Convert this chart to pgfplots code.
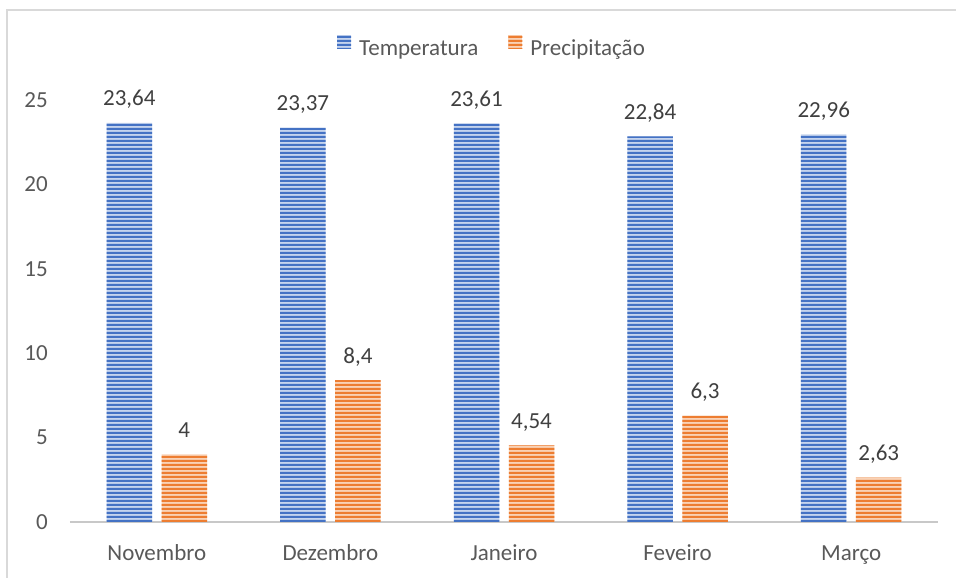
\documentclass[border=0pt]{standalone}
\usepackage{pgfplots}
\pgfplotsset{compat=1.18}
\usepackage{fontspec}
\setmainfont{Carlito}
\usetikzlibrary{patterns}
\pgfdeclarepatternformonly{hstripes}{\pgfpointorigin}{\pgfpoint{1000pt}{4.4pt}}{\pgfpoint{1000pt}{4.4pt}}{%
  \pgfpathrectangle{\pgfpointorigin}{\pgfpoint{1000pt}{2.3pt}}\pgfusepath{fill}}
\definecolor{bdark}{HTML}{4472C4}
\definecolor{blight}{HTML}{C5D4EE}
\definecolor{odark}{HTML}{ED7D31}
\definecolor{olight}{HTML}{F9D2B6}
\definecolor{txt}{HTML}{595959}
\definecolor{lbl}{HTML}{404040}
\definecolor{axgray}{HTML}{C8C8C8}
\definecolor{framec}{HTML}{D9D9D9}
\begin{document}
\begin{tikzpicture}
\useasboundingbox (0pt,0pt) rectangle (956pt,578pt);
\fill[white] (0pt,0pt) rectangle (956pt,578pt);
\draw[framec, line width=1.5pt] (7pt,0pt) -- (7pt,568pt) -- (956pt,568pt);
\begin{axis}[
  at={(70pt,56pt)}, anchor=south west,
  scale only axis, width=868pt, height=422pt,
  xmin=-0.5, xmax=4.5, ymin=0, ymax=25,
  ybar=9.5pt, bar width=45.5pt,
  xtick={0,...,4}, xticklabels={Novembro,Dezembro,Janeiro,Feveiro,Março},
  ytick={0,5,...,25},
  major tick length=0pt,
  axis x line*=bottom, axis y line*=left,
  x axis line style={-, draw=axgray, line width=2.5pt},
  y axis line style={draw=none},
  tick label style={font=\fontsize{23}{27}\selectfont, text=txt, inner sep=0pt},
  xticklabel style={text height=16pt, yshift=-22pt},
  yticklabel style={xshift=-22pt},
  /pgf/number format/assume math mode=true,
  /pgf/number format/use comma,
  /pgf/number format/fixed,
  /pgf/number format/precision=2,
  nodes near coords,
  every node near coord/.append style={font=\fontsize{23}{27}\selectfont, text=lbl, anchor=south, inner sep=2pt, text depth=3pt, yshift=12pt},
  legend columns=2,
  legend style={at={(0.5,1)}, anchor=center, yshift=53pt, xshift=-12pt, draw=none, fill=none, font=\fontsize{23}{27}\selectfont, text=txt,
    /tikz/every odd column/.append style={column sep=6pt},
    /tikz/every even column/.append style={column sep=28pt}},
  legend image code/.code={\fill[#1] (0pt,0pt) rectangle (14pt,14pt);},
]
\addplot[fill=blight, draw=none, postaction={pattern=hstripes, pattern color=bdark}]
  coordinates {(0,23.64) (1,23.37) (2,23.61) (3,22.84) (4,22.96)};
\addplot[fill=olight, draw=none, postaction={pattern=hstripes, pattern color=odark}]
  coordinates {(0,4) (1,8.4) (2,4.54) (3,6.3) (4,2.63)};
\legend{Temperatura, Precipitação}
\end{axis}
\end{tikzpicture}
\end{document}
